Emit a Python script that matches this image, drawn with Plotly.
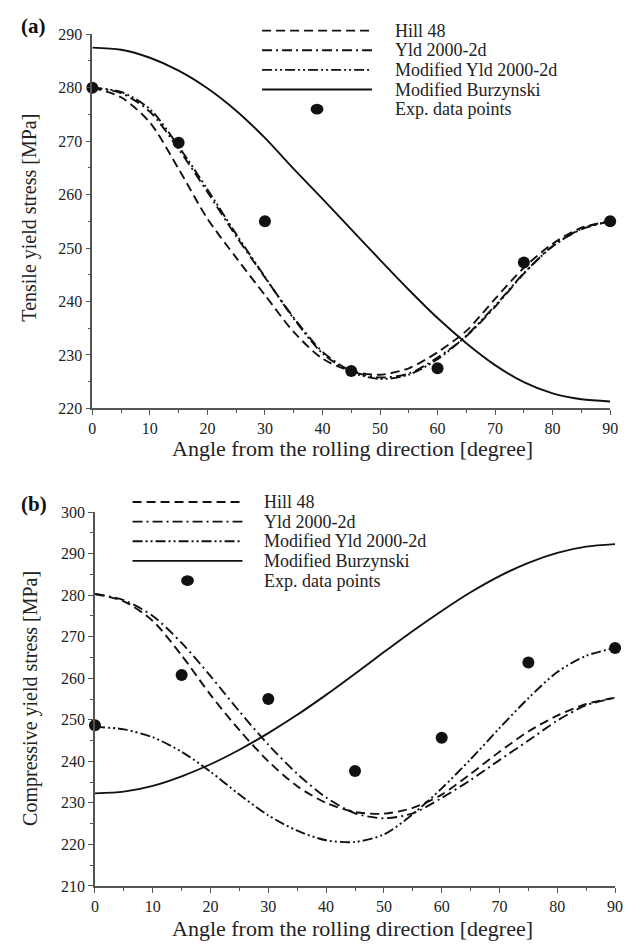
import plotly.graph_objects as go

W, H = 642, 948
FONT = "Liberation Serif"

# ---------------- data ----------------
angles = [0, 5, 10, 15, 20, 25, 30, 35, 40, 45, 50, 55, 60, 65, 70, 75, 80, 85, 90]
exp_angles = [0, 15, 30, 45, 60, 75, 90]

# (a) tensile
a_hill = [280, 278.2, 273.5, 264.8, 255.5, 248.2, 241.2, 234.3, 229.3, 227, 226.3, 227.5, 230.5, 234.5, 240.5, 246.3, 250.8, 253.8, 255]
a_yld = [280, 279, 275.5, 268.5, 260.5, 252.2, 244.5, 237, 230.6, 227, 225.8, 226.5, 229.5, 233.5, 239, 245.2, 250.4, 253.5, 255]
a_myld = [280, 279.2, 276, 269, 261, 252.6, 244.6, 236.8, 230.3, 226.8, 225.5, 226.3, 229.2, 233.6, 239.2, 245.3, 250.3, 253.6, 255]
a_burz = [287.5, 287.1, 285.6, 283.2, 279.9, 275.7, 270.6, 264.8, 259.2, 253.5, 247.8, 242.2, 236.9, 232.2, 228.1, 224.9, 222.8, 221.7, 221.3]
a_exp = [280, 269.7, 255, 227, 227.5, 247.3, 255]

# (b) compressive
b_hill = [280.3, 278.5, 273.8, 265.5, 256, 247.5, 240, 234, 230, 227.8, 227.4, 228.8, 232, 237, 242.3, 247.2, 251, 253.8, 255.3]
b_yld = [280.3, 278.8, 275, 268.5, 260.5, 252, 244, 237, 231.3, 227.5, 226.3, 227.5, 231.2, 235.5, 240.3, 245, 249.8, 253.5, 255.3]
b_myld = [248.3, 247.7, 245.8, 242.3, 237.5, 232, 227, 223.3, 221, 220.6, 222.4, 227.3, 233.5, 240.5, 248, 255.2, 261.5, 265.4, 267.3]
b_burz = [232.3, 232.7, 234.1, 236.4, 239.3, 242.8, 246.8, 251.2, 256, 261.1, 266.3, 271.4, 276.2, 280.7, 284.6, 287.8, 290.2, 291.7, 292.3]
b_exp = [248.7, 260.8, 255, 237.7, 245.7, 263.8, 267.3]

series_names = ["Hill 48", "Yld 2000-2d", "Modified Yld 2000-2d", "Modified Burzynski", "Exp. data points"]
x_title = "Angle from the rolling direction [degree]"
y_titles = ["Tensile yield stress [MPa]", "Compressive yield stress [MPa]"]
panel_labels = ["(a)", "(b)"]

# ---------------- styles ----------------
dashes = ["9px,5px", "10px,4px,2px,4px", "10px,3px,2px,3px,2px,3px", "solid"]
LW = 1.9
CLR = "#111111"

fig = go.Figure()

def add_panel(xa, ya, curves, exp):
    for vals, dash in zip(curves, dashes):
        fig.add_trace(go.Scatter(x=angles, y=vals, mode="lines", xaxis=xa, yaxis=ya,
                                 line=dict(color=CLR, width=LW, dash=dash, shape="spline", smoothing=0.8),
                                 showlegend=False, hoverinfo="skip", cliponaxis=False))
    fig.add_trace(go.Scatter(x=exp_angles, y=exp, mode="markers", xaxis=xa, yaxis=ya,
                             marker=dict(color=CLR, size=12, symbol="circle"),
                             showlegend=False, cliponaxis=False))

add_panel("x", "y", [a_hill, a_yld, a_myld, a_burz], a_exp)
add_panel("x2", "y2", [b_hill, b_yld, b_myld, b_burz], b_exp)

def px_x(p):
    return p / W

def px_y(p):
    return 1 - p / H

axis_common = dict(showline=True, linecolor="#555555", linewidth=1.5, ticks="outside",
                   ticklen=5, tickwidth=1.3, tickcolor="#555555", showgrid=False, zeroline=False,
                   tickfont=dict(family=FONT, size=16, color="#222222"))
minor = dict(dtick=5, ticks="outside", ticklen=3, tickcolor="#555555")

fig.update_layout(
    width=W, height=H, margin=dict(l=0, r=0, t=0, b=0),
    paper_bgcolor="white", plot_bgcolor="white", showlegend=False,
    xaxis=dict(domain=[px_x(90), px_x(617.7)], range=[0, 90], dtick=10, anchor="y",
               minor=minor, **axis_common),
    yaxis=dict(domain=[px_y(407.7), px_y(26.7)], range=[220, 290], dtick=10, anchor="x",
               minor=minor, **axis_common),
    xaxis2=dict(domain=[px_x(92.7), px_x(622.7)], range=[0, 90], dtick=10, anchor="y2",
                minor=minor, **axis_common),
    yaxis2=dict(domain=[px_y(894), px_y(513.3)], range=[210, 300], dtick=10, anchor="x2",
                minor=minor, **axis_common),
)

ann = []
shapes = []
# panel labels
for lab, (x, y) in zip(panel_labels, [(30, 18), (31, 505)]):
    ann.append(dict(text="<b>%s</b>" % lab, x=px_x(x), y=px_y(y), xref="paper", yref="paper",
                    showarrow=False, xanchor="center", yanchor="middle",
                    font=dict(family=FONT, size=21, color="#111111")))
# x titles
for y in [449, 937]:
    ann.append(dict(text=x_title, x=px_x(355.5), y=px_y(y), xref="paper", yref="paper",
                    showarrow=False, xanchor="center", yanchor="middle",
                    font=dict(family=FONT, size=22, color="#222222")))
# y titles
for t, (x, y) in zip(y_titles, [(26, 214), (27, 703)]):
    ann.append(dict(text=t, x=px_x(x), y=px_y(y), xref="paper", yref="paper", textangle=-90,
                    showarrow=False, xanchor="center", yanchor="middle",
                    font=dict(family=FONT, size=20, color="#222222")))

# legends
legends = [
    dict(x0=263, x1=375, ys=[23, 43, 63, 83, 103], tx=396),
    dict(x0=131, x1=243, ys=[503, 523, 543, 563, 583], tx=263),
]
for lg in legends:
    for i, name in enumerate(series_names):
        yy = lg["ys"][i]
        if i < 4:
            shapes.append(dict(type="line", xref="paper", yref="paper",
                               x0=px_x(lg["x0"]), x1=px_x(lg["x1"]), y0=px_y(yy), y1=px_y(yy),
                               line=dict(color=CLR, width=LW, dash=dashes[i])))
        else:
            cx = (lg["x0"] + lg["x1"]) / 2
            shapes.append(dict(type="circle", xref="paper", yref="paper",
                               x0=px_x(cx - 6.5), x1=px_x(cx + 6.5), y0=px_y(yy + 5.5), y1=px_y(yy - 5.5),
                               fillcolor=CLR, line=dict(color=CLR, width=0)))
        ann.append(dict(text=name, x=px_x(lg["tx"]), y=px_y(yy), xref="paper", yref="paper",
                        showarrow=False, xanchor="left", yanchor="middle",
                        font=dict(family=FONT, size=18, color="#222222")))

fig.update_layout(annotations=ann, shapes=shapes)
fig.write_html("out.html")
